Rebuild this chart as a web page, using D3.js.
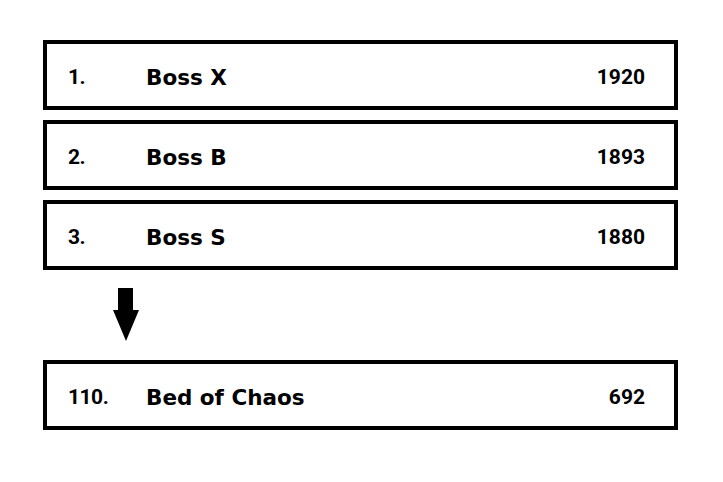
<!DOCTYPE html>
<html>
<head>
<meta charset="utf-8">
<script src="https://cdn.jsdelivr.net/npm/d3@7"></script>
<style>
  body { margin: 0; background: #fff; }
</style>
</head>
<body>
<script>
// leaderboard data
var ranks = ["1.", "2.", "3.", "110."];
var names = ["Boss X", "Boss B", "Boss S", "Bed of Chaos"];
var scores = [1920, 1893, 1880, 692];
var slots = [0, 1, 2, 4]; // slot 3 holds the arrow

var w = 723, h = 482;

var svg = d3.select("body")
    .append("svg")
    .attr("width", w)
    .attr("height", h);

// one band per slot
var y = d3.scaleBand()
    .domain(d3.range(5))
    .range([35, 435])
    .paddingInner(0.125)
    .paddingOuter(0.0625);

var x = d3.scaleLinear()
    .domain([0, 1])
    .range([43, 678]);

var rows = svg.selectAll(".row")
    .data(ranks.map(function(r, i){
        return {rank: r, name: names[i], score: scores[i], slot: slots[i]};
    }))
    .enter()
    .append("g")
    .attr("class", "row")
    .attr("transform", function(d){ return "translate(0," + y(d.slot) + ")"; });

var sw = 4;
rows.append("rect")
    .attr("x", x(0) + sw / 2)
    .attr("y", sw / 2)
    .attr("width", x(1) - x(0) - sw)
    .attr("height", y.bandwidth() - sw)
    .style("fill", "#fff")
    .style("stroke", "#000")
    .style("stroke-width", sw);

var cy = y.bandwidth() / 2 + 2;

rows.append("text")
    .attr("x", 68)
    .attr("y", cy)
    .attr("dominant-baseline", "central")
    .style("font-family", "Roboto, sans-serif")
    .style("font-weight", 700)
    .style("font-size", "21px")
    .style("letter-spacing", "-0.5px")
    .text(function(d){ return d.rank; });

rows.append("text")
    .attr("x", 146)
    .attr("y", cy)
    .attr("dominant-baseline", "central")
    .style("font-family", "'DejaVu Sans', sans-serif")
    .style("font-weight", 700)
    .style("font-size", "21.5px")
    .text(function(d){ return d.name; });

rows.append("text")
    .attr("x", 645)
    .attr("y", cy)
    .attr("text-anchor", "end")
    .attr("dominant-baseline", "central")
    .style("font-family", "Roboto, sans-serif")
    .style("font-weight", 700)
    .style("font-size", "21px")
    .text(function(d){ return d.score; });

// down arrow in the gap slot
var ay = y(3);
svg.append("path")
    .attr("d", "M118," + (ay + 8) + " H133 V" + (ay + 30) + " H139 L126," + (ay + 61) +
        " L113," + (ay + 30) + " H118 Z")
    .style("fill", "#000");
</script>
</body>
</html>
